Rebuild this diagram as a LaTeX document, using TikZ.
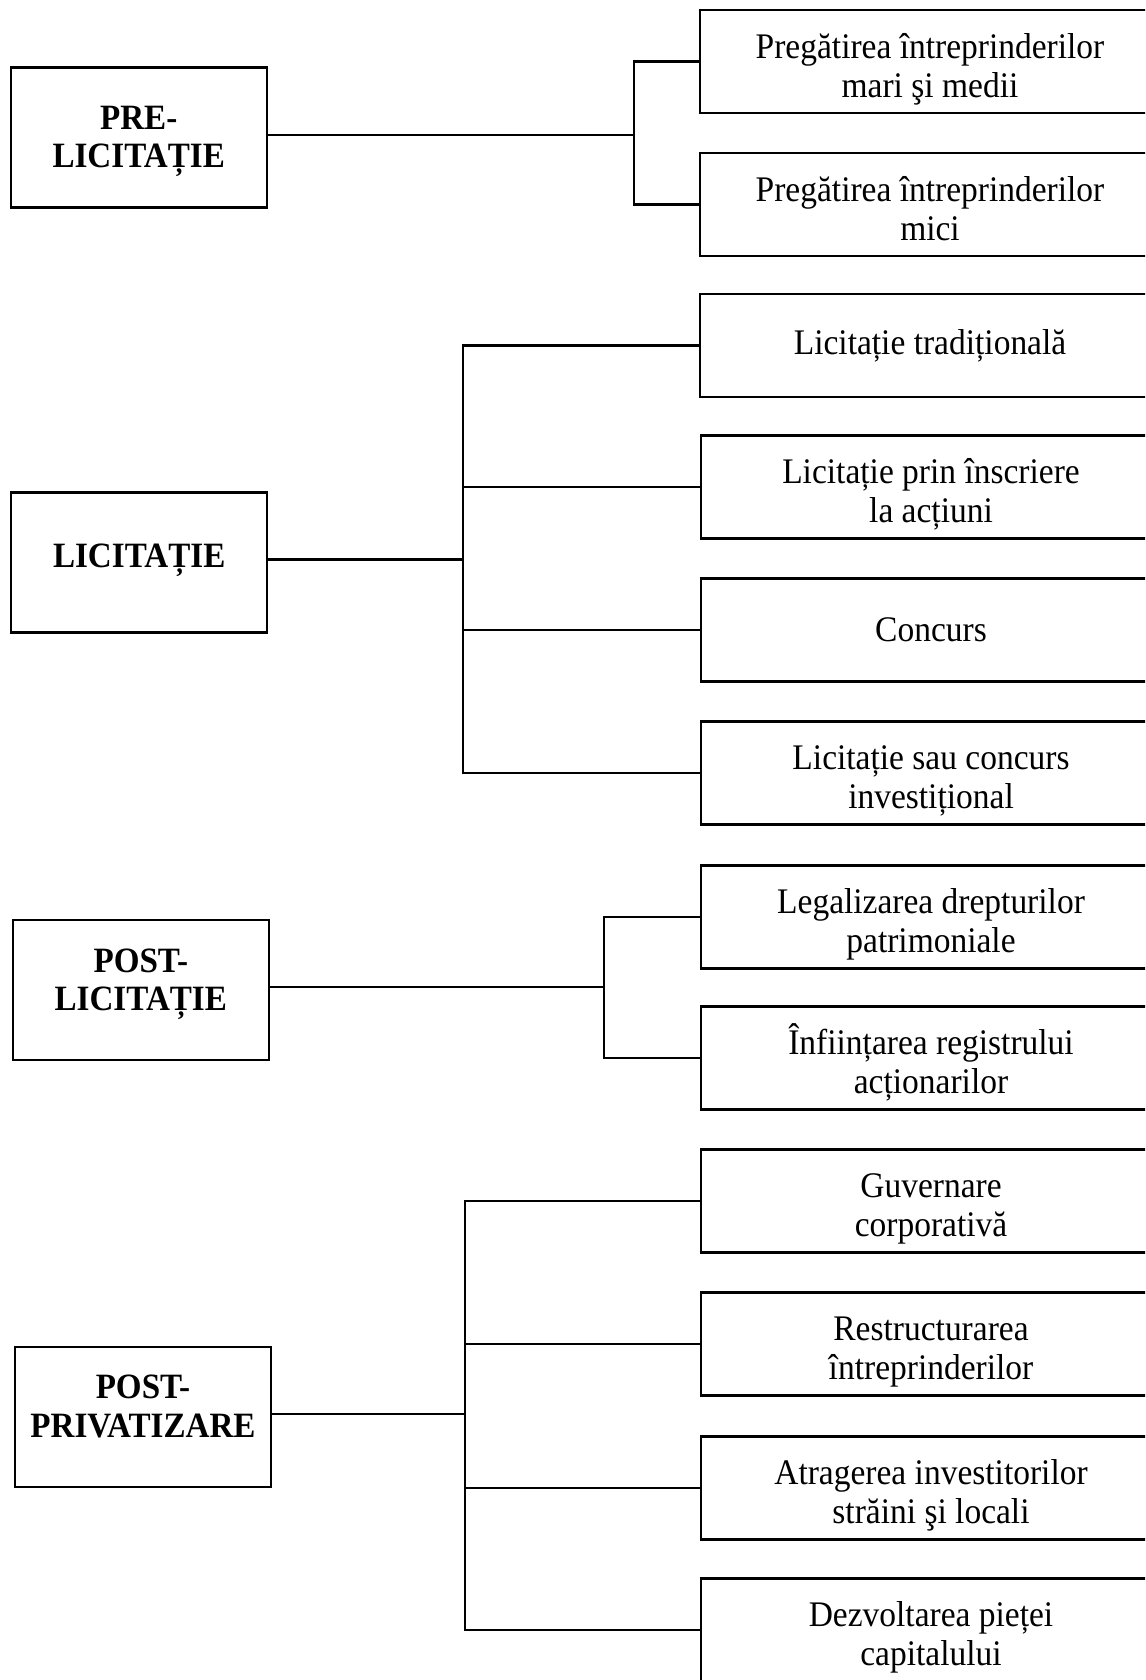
\documentclass[tikz,border=0pt]{standalone}
\usepackage{fontspec}
\setmainfont{Liberation Serif}[FakeStretch=0.93]
\begin{document}
\begin{tikzpicture}[x=0.5pt,y=-0.5pt,
  phasebox/.style={draw,line width=1.2pt,minimum width=128pt,minimum height=70pt,
    align=center,inner sep=0pt,font=\bfseries\fontsize{17.8}{19.3}\selectfont},
  itembox/.style={draw,line width=1.2pt,minimum width=230pt,minimum height=51.5pt,
    align=center,inner sep=0pt,font=\fontsize{18}{19.3}\selectfont},
  twolines/.style={text height=40pt,text depth=4.5pt},
  link/.style={line width=1.1pt}]
\useasboundingbox (0,0) rectangle (1145,1680);
\clip (0,0) rectangle (1145,1680);
\fill[white] (0,0) rectangle (1145,1680);

% left column: the four phases
\node[phasebox,text height=35pt,text depth=4.6pt]   (pre)   at (138.7,137.6) {PRE-\\LICITAȚIE};
\node[phasebox,text height=9.7pt,text depth=4.6pt]  (lic)   at (139.2,562.3) {LICITAȚIE};
\node[phasebox,text height=25.8pt,text depth=4.6pt] (postl) at (140.8,989.7) {POST-\\LICITAȚIE};
\node[phasebox,text height=25pt,text depth=4.6pt]   (postp) at (143,1417)    {POST-\\PRIVATIZARE};

% right column: the actions of each phase
\node[itembox,twolines] (r1) at (930,61.6)  {Pregătirea întreprinderilor\\mari şi medii};
\node[itembox,twolines] (r2) at (930,204.6) {Pregătirea întreprinderilor\\mici};
\node[itembox]          (la) at (930,345.5) {Licitație tradițională};
\node[itembox,twolines] (lb) at (931,487)   {Licitație prin înscriere\\la acțiuni};
\node[itembox]          (lc) at (931,629.8) {Concurs};
\node[itembox,twolines] (ld) at (931,772.8) {Licitație sau concurs\\investițional};
\node[itembox,twolines] (pa) at (931,917)   {Legalizarea drepturilor\\patrimoniale};
\node[itembox,twolines] (pb) at (931,1058)  {Înființarea registrului\\acționarilor};
\node[itembox,twolines] (qa) at (931,1201)  {Guvernare\\corporativă};
\node[itembox,twolines] (qb) at (931,1344)  {Restructurarea\\întreprinderilor};
\node[itembox,twolines] (qc) at (931,1488)  {Atragerea investitorilor\\străini şi locali};
\node[itembox,twolines] (qd) at (931,1630)  {Dezvoltarea pieței\\capitalului};

% branch points
\coordinate (b1) at (634,0);
\coordinate (b2) at (462.7,0);
\coordinate (b3) at (604,0);
\coordinate (b4) at (465,0);

% connectors
\draw[link] ([yshift=1.4pt]pre.east) coordinate (pe) -- (pe -| b1);
\draw[link] (r1.west) -- (b1 |- r1.west) -- (b1 |- r2.west) -- (r2.west);

\draw[link] ([yshift=1.4pt]lic.east) coordinate (le) -- (le -| b2);
\draw[link] (la.west) -- (b2 |- la.west) -- (b2 |- ld.west) -- (ld.west);
\draw[link] (b2 |- lb.west) -- (lb.west);
\draw[link] (b2 |- lc.west) -- (lc.west);

\draw[link] ([yshift=1.4pt]postl.east) coordinate (ple) -- (ple -| b3);
\draw[link] (pa.west) -- (b3 |- pa.west) -- (b3 |- pb.west) -- (pb.west);

\draw[link] ([yshift=1.4pt]postp.east) coordinate (ppe) -- (ppe -| b4);
\draw[link] (qa.west) -- (b4 |- qa.west) -- (b4 |- qd.west) -- (qd.west);
\draw[link] (b4 |- qb.west) -- (qb.west);
\draw[link] (b4 |- qc.west) -- (qc.west);
\end{tikzpicture}
\end{document}
